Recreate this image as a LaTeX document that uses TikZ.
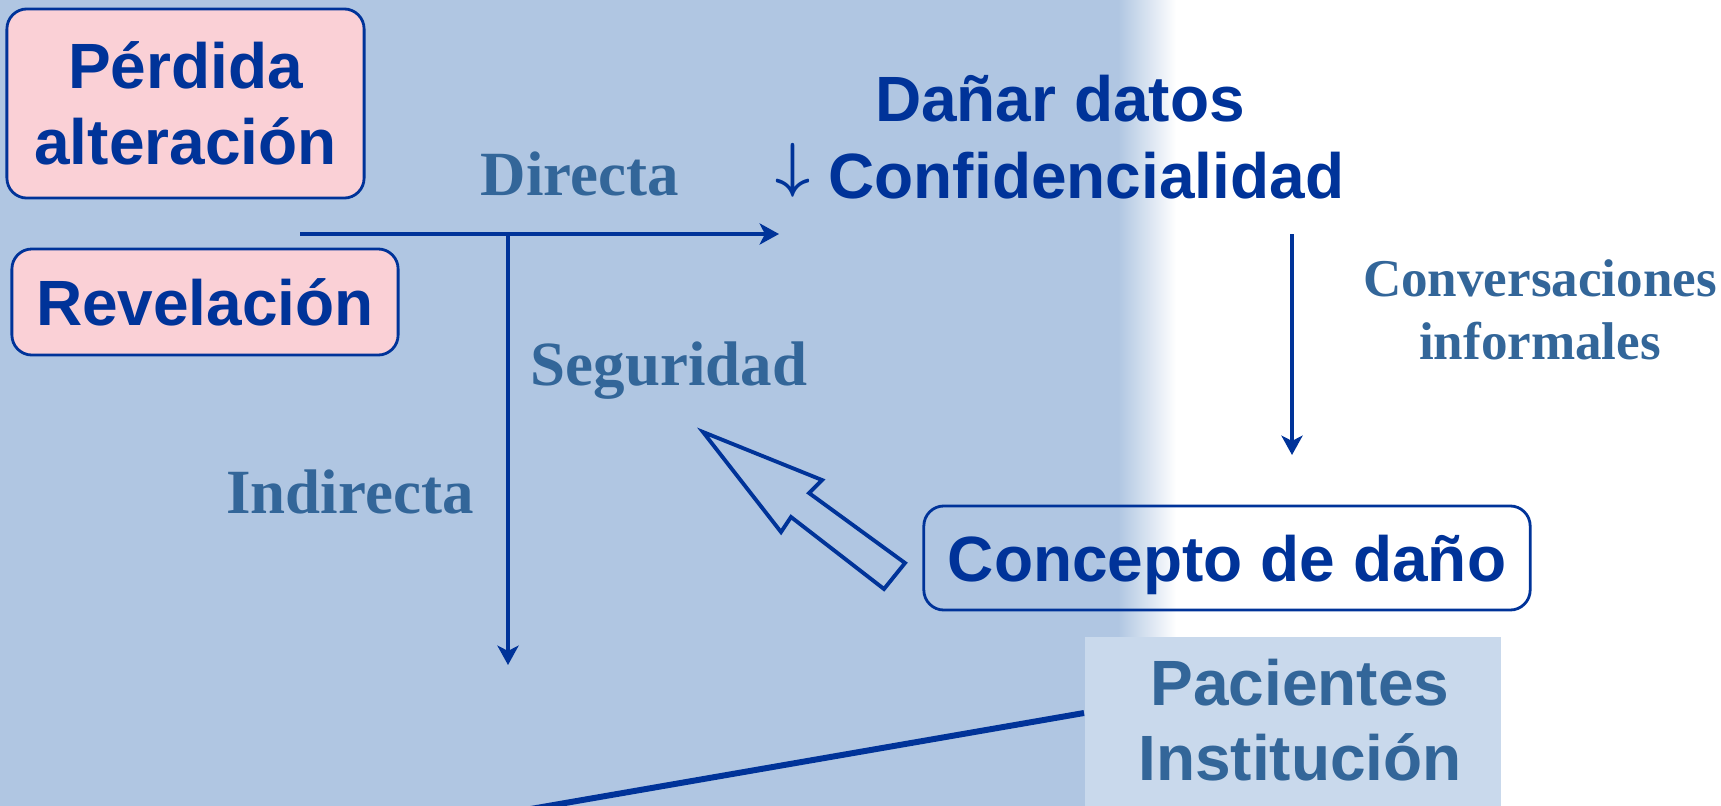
\documentclass[tikz,border=0pt]{standalone}
\usepackage{fontspec}
\setmainfont{Liberation Serif}
\setsansfont{Liberation Sans}
\usetikzlibrary{arrows.meta}

\definecolor{fondo}{RGB}{176,198,226}
\definecolor{azul}{RGB}{0,51,153}
\definecolor{acero}{RGB}{51,102,153}
\definecolor{rosa}{RGB}{250,208,214}
\definecolor{palido}{RGB}{201,217,236}

\newcommand{\letragrande}{\sffamily\bfseries\fontsize{18.2}{21.7}\selectfont}
\newcommand{\flechabaja}{\raisebox{0.2em}{\boldmath$\downarrow$}}

\begin{document}
\begin{tikzpicture}[x=0.01cm,y=-0.01cm,
	caja/.style={draw=azul,line width=0.8pt,rounded corners=0.2cm,fill=rosa,text=azul,font=\letragrande,align=center,inner sep=0pt},
	rotulo/.style={text=acero,font=\rmfamily\bfseries\fontsize{17.9}{21}\selectfont,align=center},
	flecha/.style={-{Stealth[length=5.5pt,width=6pt,inset=1.5pt]},line width=1.4pt,draw=azul}]
	
	\useasboundingbox (0,0) rectangle (1721,806);
	\clip (0,0) rectangle (1721,806);
	
	\fill[fondo] (0,0) rectangle (1120,806);
	\shade[left color=fondo,right color=white] (1118,0) rectangle (1176,806);
	
	\node[caja,minimum width=3.57cm,minimum height=1.89cm] (perdida) at (185.5,103.5) {Pérdida\\alteración};
	\node[caja,minimum width=3.86cm,minimum height=1.06cm] (revelacion) at (205,302) {Revelación};
	\node[caja,fill=none,text depth=0pt,minimum width=6.06cm,minimum height=1.04cm] (concepto) at (1227,558) {Concepto de daño};
	\node[text=azul,font=\letragrande,align=center] (danar) at (1060,137) {Dañar datos\\\flechabaja\ Confidencialidad};
	
	\node[rotulo] (directa) at (580,174) {Directa};
	\node[rotulo] (seguridad) at (669,371) {Seguridad};
	\node[rotulo] (indirecta) at (350,492) {Indirecta};
	\node[rotulo,font=\rmfamily\bfseries\fontsize{15.1}{17.9}\selectfont] (conversaciones) at (1540,310) {Conversaciones\\informales};
	
	\coordinate (h0) at (300,234);
	\coordinate (h1) at (779,234);
	\coordinate (v0) at (508,234);
	\coordinate (v1) at (508,665);
	\coordinate (d0) at (1292,234);
	\coordinate (d1) at (1292,455);
	\coordinate (fuera) at (300,849);
	
	\draw[flecha] (h0) -- (h1);
	\draw[flecha] (v0) -- (v1);
	\draw[flecha] (d0) -- (d1);
	
	\draw[azul,line width=1.1pt,line join=miter] (703,432) -- (822,480) -- (809,493) -- (905,563) -- (884,589) -- (791,517) -- (781,532) -- cycle;
	
	\node[fill=palido,anchor=north west,minimum width=4.16cm,minimum height=2cm,inner sep=0pt] (pacbox) at (1084,636) {};
	\draw[azul,line width=1.7pt] (pacbox.north west) ++(0,77) -- (fuera);
	\node[text=acero,font=\sffamily\bfseries\fontsize{18.2}{21.3}\selectfont,align=center] (pacientes) at (1300,720) {Pacientes\\Institución};
\end{tikzpicture}
\end{document}
